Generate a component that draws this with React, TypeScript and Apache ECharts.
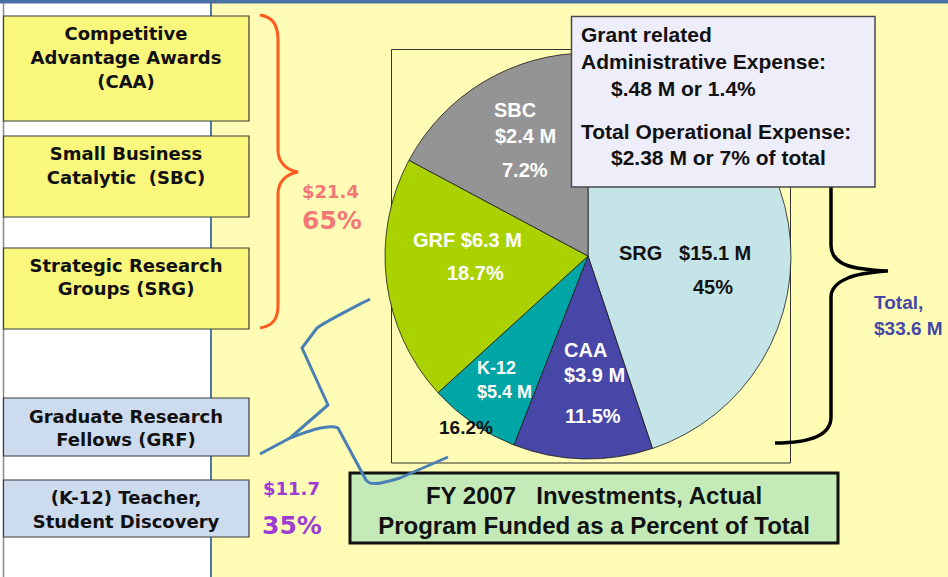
import React, { useEffect, useRef } from 'react';
import * as echarts from 'echarts';

// ---------- data ----------
const sliceNames = ['SRG', 'CAA', 'K-12', 'GRF', 'SBC'];
const sliceShares = [44.9, 11.1, 7.3, 19.6, 17.2]; // drawn slice sizes (% of pie)
const sliceAmounts = ['$15.1 M', '$3.9 M', '$5.4 M', '$6.3 M', '$2.4 M'];
const slicePercents = ['45%', '11.5%', '16.2%', '18.7%', '7.2%'];

const programLines = [
  ['Competitive', 'Advantage Awards', '(CAA)'],
  ['Small Business', 'Catalytic  (SBC)'],
  ['Strategic Research', 'Groups (SRG)'],
  ['Graduate Research', 'Fellows (GRF)'],
  ['(K-12) Teacher,', 'Student Discovery'],
];
const researchGroup = ['$21.4', '65%'];
const educationGroup = ['$11.7', '35%'];
const totalLines = ['Total,', '$33.6 M'];
const calloutLines = [
  'Grant related',
  'Administrative Expense:',
  '$.48 M or 1.4%',
  'Total Operational Expense:',
  '$2.38 M or 7% of total',
];
const titleLines = ['FY 2007   Investments, Actual', 'Program Funded as a Percent of Total'];

// ---------- styles / layout ----------
const sliceColors = ['#C5E4E8', '#4747A8', '#00A5A5', '#AAD200', '#949494'];
const ARIAL = '"Liberation Sans", Arial, sans-serif';
const VERDANA = '"DejaVu Sans", Verdana, sans-serif';

const boxLayout = [
  { y0: 16, y1: 121, fill: '#F9F77C', ys: [33, 57, 81] },
  { y0: 136, y1: 217, fill: '#F9F77C', ys: [153, 177] },
  { y0: 248, y1: 329, fill: '#F9F77C', ys: [265, 288] },
  { y0: 398, y1: 456, fill: '#CCDBEE', ys: [416, 439] },
  { y0: 480, y1: 537, fill: '#CCDBEE', ys: [497, 521] },
];

// pie label placement: [x(left), y(middle), colour, size, which]
const pieLabelLayout: any[] = [
  { lines: [[619, 253, '#111', 20, 'nameAmount'], [693, 287, '#111', 20, 'pct']] },
  { lines: [[564, 350, '#fff', 20, 'name'], [564, 375, '#fff', 20, 'amt'], [565, 416, '#fff', 20, 'pct']] },
  { lines: [[477, 368, '#fff', 18, 'name'], [477, 392, '#fff', 18, 'amt'], [439, 427, '#111', 19, 'pct']] },
  { lines: [[413, 240, '#fff', 20, 'nameAmount1'], [447, 273, '#fff', 20, 'pct']] },
  { lines: [[494, 110, '#fff', 20, 'name'], [495, 136, '#fff', 20, 'amt'], [502, 170, '#fff', 20, 'pct']] },
];

const orangeBraceD =
  'M260,15 C272,17 278,24 278,40 L278,150 C278,162 286,170 298,172 C286,174 278,182 278,194 L278,305 C278,320 272,326 260,328';
const blackBraceD =
  'M831,180 L831,245 C831,258 840,265 857,268 C870,270 880,271 888,271 C875,272 860,273 848,278 C836,283 831,290 831,297 L831,417 C831,435 810,443 775,443';
const squiggleD =
  'M370,299 C345,312 325,322 317,328 L302,348 L328,405 L290,438 L260,454 M290,438 C310,430 330,424 338,428 L366,480 C370,486 380,484 400,478 L448,457';

echarts.graphic.registerShape('orangeBrace', echarts.graphic.extendPath(orangeBraceD, {}));
echarts.graphic.registerShape('blackBrace', echarts.graphic.extendPath(blackBraceD, {}));
echarts.graphic.registerShape('blueSquiggle', echarts.graphic.extendPath(squiggleD, {}));

function txt(text: string, x: number, y: number, size: number, color: string, family: string, align = 'left', z = 20) {
  return {
    type: 'text',
    z,
    silent: true,
    style: {
      text,
      x,
      y,
      fill: color,
      fontSize: size,
      fontWeight: 'bold',
      fontFamily: family,
      align,
      textAlign: align,
      verticalAlign: 'middle',
      textVerticalAlign: 'middle',
    },
  };
}

export default function App() {
  const ref = useRef<HTMLDivElement>(null);
  useEffect(() => {
    document.body.style.margin = '0';
    const chart = echarts.init(ref.current!, null, { renderer: 'svg' });

    const g: any[] = [];
    // backgrounds
    g.push({ type: 'rect', z: 0, shape: { x: 0, y: 0, width: 948, height: 577 }, style: { fill: '#FFFDB5' } });
    g.push({ type: 'rect', z: 0, shape: { x: 0, y: 0, width: 211, height: 577 }, style: { fill: '#FFFFFF' } });
    g.push({ type: 'line', z: 1, shape: { x1: 211, y1: 0, x2: 211, y2: 577 }, style: { stroke: '#4E78AA', lineWidth: 2 } });
    g.push({ type: 'line', z: 1, shape: { x1: 3.5, y1: 0, x2: 3.5, y2: 577 }, style: { stroke: '#8A8A8A', lineWidth: 1.5 } });
    g.push({ type: 'rect', z: 1, shape: { x: 0, y: 0, width: 948, height: 3.5 }, style: { fill: '#4A70A3' } });

    // program boxes
    boxLayout.forEach((b, i) => {
      g.push({
        type: 'rect', z: 3,
        shape: { x: 3.5, y: b.y0, width: 245.5, height: b.y1 - b.y0 },
        style: { fill: b.fill, stroke: '#3A3A3A', lineWidth: 1.2 },
      });
      programLines[i].forEach((line, j) => g.push(txt(line, 126, b.ys[j], 18, '#111', VERDANA, 'center')));
    });

    // braces and group totals
    g.push({ type: 'orangeBrace', z: 4, x: 0, y: 0, style: { stroke: '#FF5A1F', lineWidth: 3, fill: 'none' } });
    g.push(txt(researchGroup[0], 302, 191, 18, '#F27777', VERDANA));
    g.push(txt(researchGroup[1], 302, 220, 25, '#F27777', VERDANA));
    g.push(txt(educationGroup[0], 263, 488, 18, '#9D3BD4', VERDANA));
    g.push(txt(educationGroup[1], 262, 525, 25, '#9D3BD4', VERDANA));

    // pie frame
    g.push({ type: 'rect', z: 1, shape: { x: 391.5, y: 49.5, width: 399, height: 413.5 }, style: { fill: 'none', stroke: '#333', lineWidth: 1 } });

    // pie labels
    pieLabelLayout.forEach((lay, i) => {
      lay.lines.forEach((l: any) => {
        let s = '';
        if (l[4] === 'name') s = sliceNames[i];
        else if (l[4] === 'amt') s = sliceAmounts[i];
        else if (l[4] === 'pct') s = slicePercents[i];
        else if (l[4] === 'nameAmount') s = sliceNames[i] + '   ' + sliceAmounts[i];
        else s = sliceNames[i] + ' ' + sliceAmounts[i];
        g.push(txt(s, l[0], l[1], l[3], l[2], ARIAL, 'left', 20));
      });
    });

    // callout box
    g.push({ type: 'rect', z: 30, shape: { x: 571.5, y: 16.5, width: 303.5, height: 170.5 }, style: { fill: '#EEEEFB', stroke: '#4A4A4A', lineWidth: 1.5 } });
    const cx = [581, 581, 611, 581, 611];
    const cy = [34, 61, 88, 131, 157];
    calloutLines.forEach((l, i) => g.push(txt(l, cx[i], cy[i], 21, '#111', ARIAL, 'left', 31)));

    // black brace + total
    g.push({ type: 'blackBrace', z: 25, x: 0, y: 0, style: { stroke: '#000', lineWidth: 3.5, fill: 'none' } });
    g.push(txt(totalLines[0], 874, 302, 19, '#4646A6', ARIAL));
    g.push(txt(totalLines[1], 874, 328, 19, '#4646A6', ARIAL));

    // title box
    g.push({ type: 'rect', z: 32, shape: { x: 350, y: 473, width: 488, height: 70 }, style: { fill: '#C4EAB8', stroke: '#111', lineWidth: 3 } });
    g.push(txt(titleLines[0], 594, 495, 24, '#111', ARIAL, 'center', 33));
    g.push(txt(titleLines[1], 594, 525, 24, '#111', ARIAL, 'center', 33));

    // squiggle (on top of title box)
    g.push({ type: 'blueSquiggle', z: 40, x: 0, y: 0, style: { stroke: '#4A7FB5', lineWidth: 3, fill: 'none', lineJoin: 'round' } });

    const option: any = {
      animation: false,
      graphic: { elements: g },
      series: [
        {
          type: 'pie',
          z: 10,
          silent: true,
          center: [588, 256],
          radius: 203,
          startAngle: 90,
          clockwise: true,
          label: { show: false },
          labelLine: { show: false },
          itemStyle: { borderColor: '#1a1a1a', borderWidth: 0.8 },
          emphasis: { disabled: true },
          data: sliceNames.map((n, i) => ({ name: n, value: sliceShares[i], itemStyle: { color: sliceColors[i] } })),
        },
      ],
    };
    chart.setOption(option);
    return () => chart.dispose();
  }, []);
  return <div ref={ref} style={{ width: 948, height: 577 }} />;
}
